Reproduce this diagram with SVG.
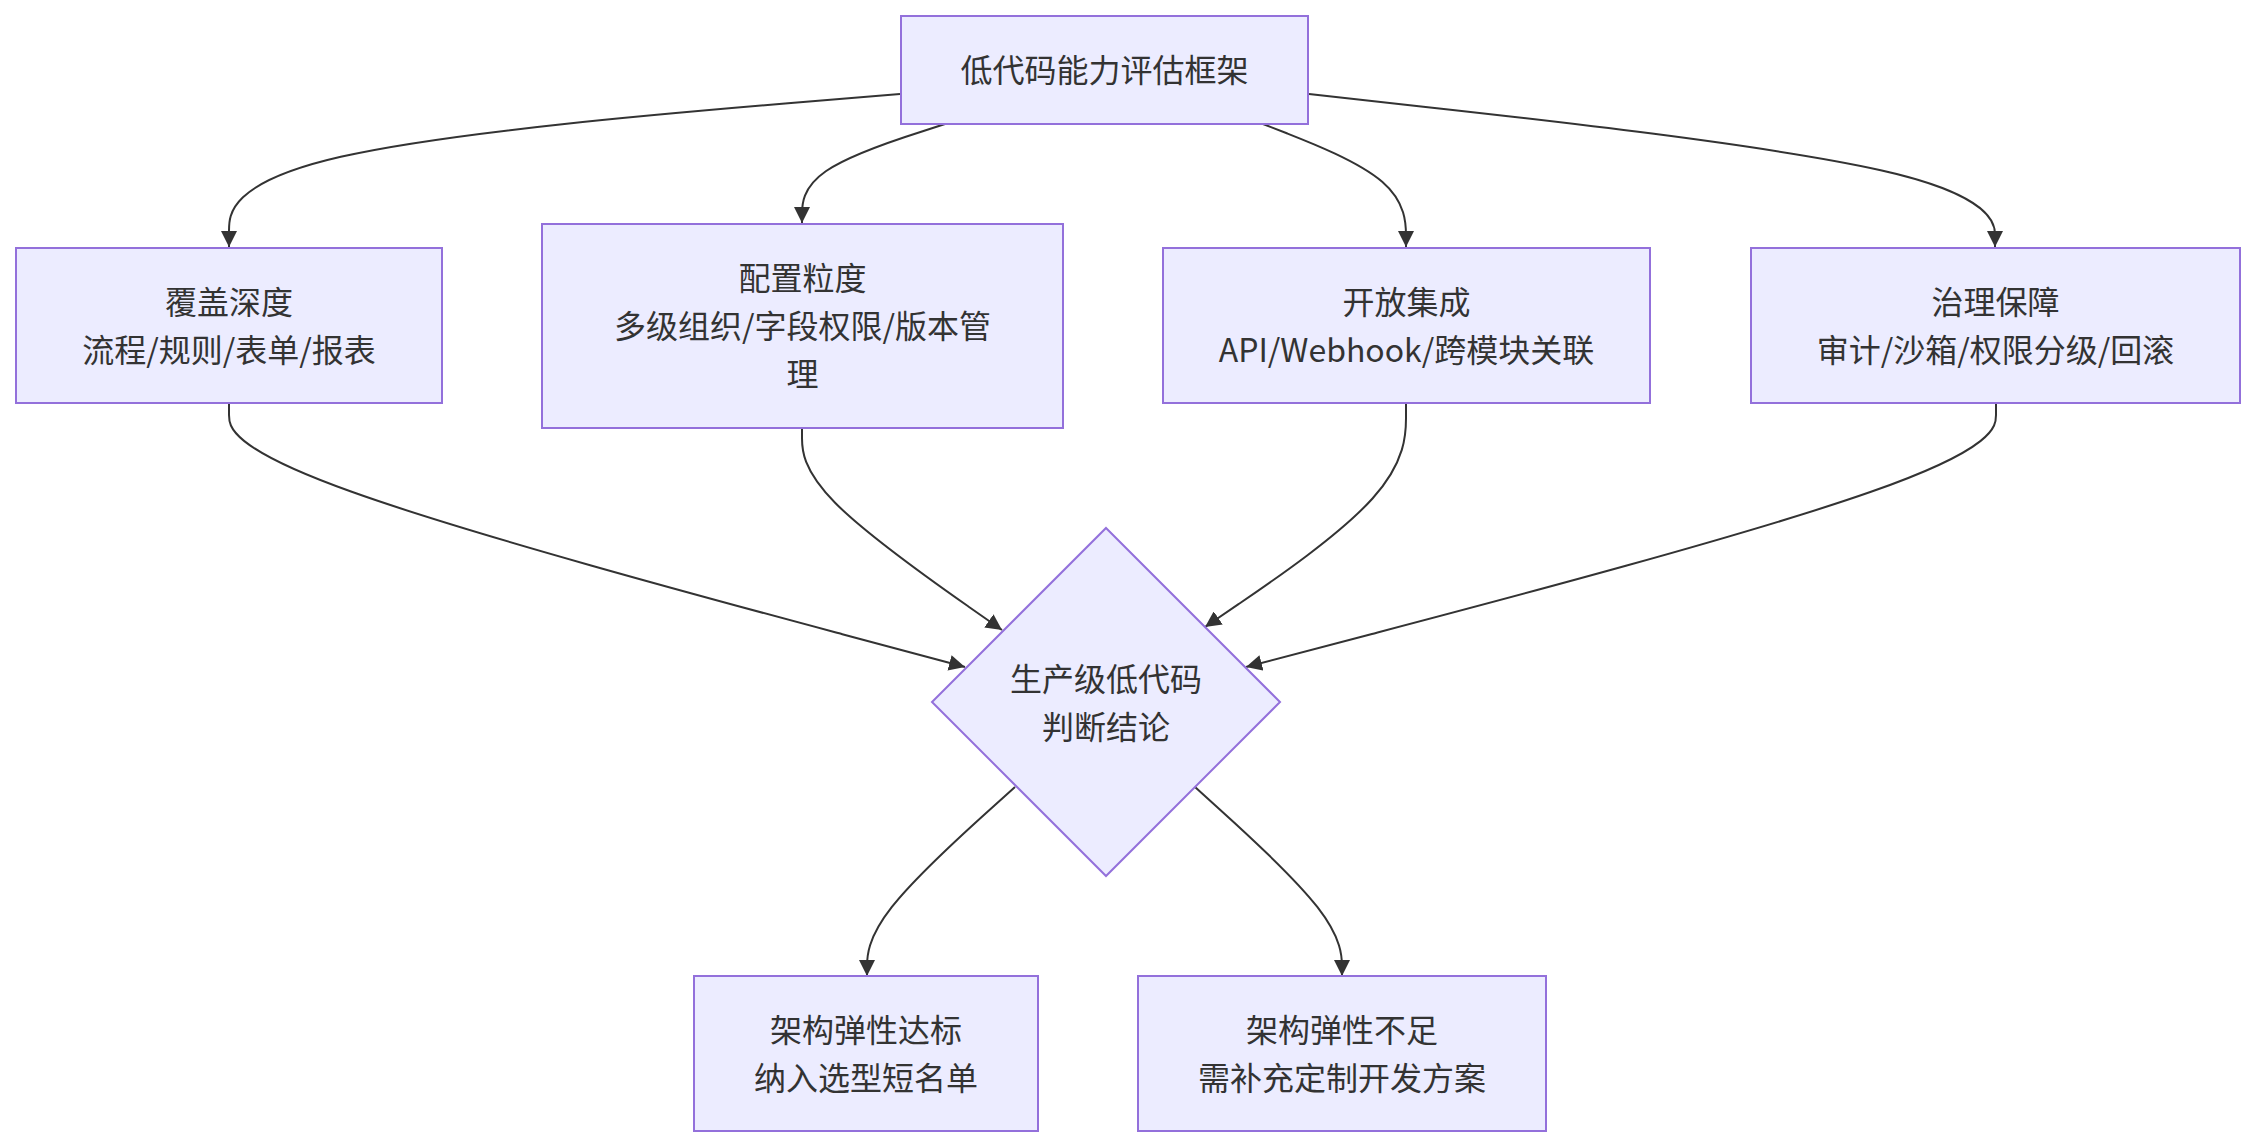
<svg xmlns="http://www.w3.org/2000/svg" width="2256" height="1148" viewBox="0 0 2256 1148">
<style>
.node rect, .node polygon { fill: #ECECFF; stroke: #9370DB; stroke-width: 2; }
.node text { font-family: "Noto Sans CJK SC", "Noto Sans", sans-serif; font-size: 32px; fill: #333333; text-anchor: middle; dominant-baseline: central; }
.edges path { fill: none; stroke: #333333; stroke-width: 2; marker-end: url(#arrow); }
</style>
<defs>
<marker id="arrow" viewBox="0 0 10 10" refX="10" refY="5" markerUnits="userSpaceOnUse" markerWidth="16" markerHeight="16" orient="auto">
<path d="M0,0 L10,5 L0,10 z" fill="#333333"/>
</marker>
</defs>
<rect width="2256" height="1148" fill="#ffffff"/>
<g class="edges">
<path d="M900,94 L788,103.3 C676,112.7 452.7,131.3 340.8,156.8 C229,182.3 229,214.7 229,230.8 L229,247"/>
<path d="M945,124 L921.2,131.7 C897.3,139.3 849.7,154.7 825.8,171.2 C802,187.7 802,205.3 802,214.2 L802,223"/>
<path d="M1263,124 L1286.8,133.3 C1310.7,142.7 1358.3,161.3 1382.2,181.8 C1406,202.3 1406,224.7 1406,235.8 L1406,247"/>
<path d="M1309,94 L1423.3,106.7 C1537.7,119.3 1766.3,144.7 1880.7,170.2 C1995,195.7 1995,226.3 1995,234 L1995,247"/>
<path d="M229,404 L229,415 C229,426 229,448 351.7,491.8 C474.3,535.7 719.7,601.3 842.3,634.2 L965,667"/>
<path d="M802,428 L802,438.3 C802,448.7 802,469.3 835.3,503 C868.7,536.7 935.3,583.3 968.7,606.7 L1002,630"/>
<path d="M1406,404 L1406,418.3 C1406,432.7 1406,461.3 1372.5,498.5 C1339,535.7 1272,581.3 1238.5,604.2 L1205,627"/>
<path d="M1996,404 L1996,415 C1996,426 1996,448 1871,491.8 C1746,535.7 1496,601.3 1371,634.2 L1246,667"/>
<path d="M1015,787 L990.3,809.2 C965.7,831.3 916.3,875.7 891.7,907.2 C867,938.7 867,957.3 867,966.7 L867,976"/>
<path d="M1195,787 L1219.5,809.2 C1244,831.3 1293,875.7 1317.5,907.2 C1342,938.7 1342,957.3 1342,966.7 L1342,976"/>
</g>
<g id="top" class="node">
<rect x="901" y="16" width="407" height="108"/>
<text x="1104.5" y="68">低代码能力评估框架</text>
</g>
<g id="coverage" class="node">
<rect x="16" y="248" width="426" height="155"/>
<text x="229" y="300">覆盖深度</text>
<text x="229" y="348">流程/规则/表单/报表</text>
</g>
<g id="config" class="node">
<rect x="542" y="224" width="521" height="204"/>
<text x="802.5" y="276">配置粒度</text>
<text x="802.5" y="324">多级组织/字段权限/版本管</text>
<text x="802.5" y="372">理</text>
</g>
<g id="integration" class="node">
<rect x="1163" y="248" width="487" height="155"/>
<text x="1406.5" y="300">开放集成</text>
<text x="1406.5" y="348">API/Webhook/跨模块关联</text>
</g>
<g id="governance" class="node">
<rect x="1751" y="248" width="489" height="155"/>
<text x="1995.5" y="300">治理保障</text>
<text x="1995.5" y="348">审计/沙箱/权限分级/回滚</text>
</g>
<g id="decision" class="node">
<polygon points="1106,528 1280,702 1106,876 932,702"/>
<text x="1106" y="677">生产级低代码</text>
<text x="1106" y="725">判断结论</text>
</g>
<g id="pass" class="node">
<rect x="694" y="976" width="344" height="155"/>
<text x="866" y="1028">架构弹性达标</text>
<text x="866" y="1076">纳入选型短名单</text>
</g>
<g id="fail" class="node">
<rect x="1138" y="976" width="408" height="155"/>
<text x="1342" y="1028">架构弹性不足</text>
<text x="1342" y="1076">需补充定制开发方案</text>
</g>
</svg>
